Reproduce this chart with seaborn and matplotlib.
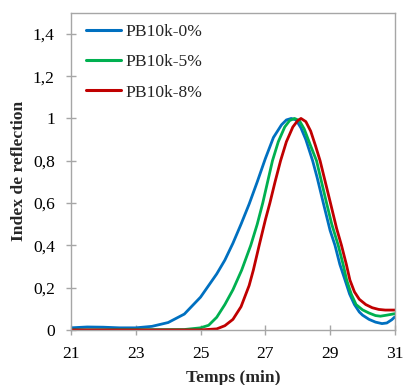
import matplotlib
matplotlib.use("Agg")
import matplotlib.pyplot as plt
import seaborn as sns
import pandas as pd
from matplotlib.ticker import FuncFormatter

# --- data ---
x_blue = [21.0, 21.5, 22.0, 22.5, 23.0, 23.5, 24.0, 24.5, 25.0, 25.25, 25.5, 25.75,
          26.0, 26.25, 26.5, 26.75, 27.0, 27.25, 27.5, 27.65, 27.8, 27.95, 28.1,
          28.25, 28.46, 28.6, 28.79, 29.0, 29.15, 29.3, 29.46, 29.6, 29.75, 29.9,
          30.0, 30.2, 30.4, 30.6, 30.75, 30.9, 31.0]
y_blue = [0.010, 0.014, 0.013, 0.010, 0.010, 0.017, 0.035, 0.075, 0.155, 0.210, 0.265, 0.330,
          0.410, 0.500, 0.595, 0.700, 0.810, 0.910, 0.970, 0.993, 1.000, 0.993, 0.955,
          0.900, 0.800, 0.720, 0.600, 0.470, 0.400, 0.310, 0.236, 0.170, 0.120, 0.085,
          0.070, 0.050, 0.037, 0.030, 0.033, 0.048, 0.062]

x_green = [21.0, 24.5, 25.0, 25.25, 25.5, 25.75, 26.0, 26.27, 26.55, 26.75, 26.92, 27.07,
           27.22, 27.4, 27.6, 27.75, 27.9, 28.05, 28.2, 28.4, 28.58, 28.75, 28.89,
           29.05, 29.25, 29.4, 29.51, 29.65, 29.8, 30.0, 30.2, 30.4, 30.55, 30.75, 31.0]
y_green = [0.0, 0.002, 0.010, 0.022, 0.060, 0.120, 0.190, 0.283, 0.400, 0.500, 0.600, 0.700,
           0.800, 0.890, 0.960, 0.990, 1.000, 0.990, 0.950, 0.870, 0.800, 0.690, 0.600,
           0.500, 0.400, 0.310, 0.236, 0.170, 0.120, 0.095, 0.080, 0.068, 0.065, 0.070, 0.077]

x_red = [21.0, 25.0, 25.5, 25.75, 26.0, 26.25, 26.5, 26.63, 26.81, 27.0, 27.14, 27.3,
         27.47, 27.65, 27.85, 28.0, 28.1, 28.25, 28.4, 28.55, 28.69, 28.85, 29.01,
         29.2, 29.35, 29.5, 29.61, 29.75, 29.9, 30.1, 30.3, 30.5, 30.7, 31.0]
y_red = [0.0, 0.0, 0.005, 0.020, 0.050, 0.110, 0.210, 0.283, 0.400, 0.520, 0.600, 0.700,
         0.800, 0.890, 0.960, 0.990, 1.000, 0.985, 0.940, 0.870, 0.800, 0.700, 0.600,
         0.480, 0.400, 0.310, 0.236, 0.180, 0.145, 0.120, 0.105, 0.097, 0.094, 0.094]

series_names = ["PB10k-0%", "PB10k-5%", "PB10k-8%"]
colors = ["#0070C0", "#00B050", "#C00000"]
x_ticks = [21, 23, 25, 27, 29, 31]
y_ticks = [0, 0.2, 0.4, 0.6, 0.8, 1.0, 1.2, 1.4]

frames = []
for name, xs, ys in zip(series_names, [x_blue, x_green, x_red], [y_blue, y_green, y_red]):
    frames.append(pd.DataFrame({"Temps": xs, "Index": ys, "Série": name}))
df = pd.concat(frames, ignore_index=True)

sns.set_style("white")
plt.rcParams["font.family"] = ["Liberation Serif", "DejaVu Serif"]

FS = 12.6
fig = plt.figure(figsize=(4.03, 3.85), dpi=100)
ax = fig.add_axes([0.176, 0.143, 0.804, 0.824])

sns.lineplot(data=df, x="Temps", y="Index", hue="Série", palette=colors,
             hue_order=series_names, linewidth=2.0, ax=ax, sort=False,
             estimator=None)
for ln in ax.get_lines():
    ln.set_solid_joinstyle("round")
    ln.set_solid_capstyle("round")

ax.set_xlim(21, 31)
ax.set_ylim(0, 1.5)
ax.set_xticks(x_ticks)
ax.set_yticks(y_ticks)

def fmt(v, pos):
    s = ("%.1f" % v).rstrip("0").rstrip(".")
    return s.replace(".", ",")

ax.yaxis.set_major_formatter(FuncFormatter(fmt))
ax.xaxis.set_major_formatter(FuncFormatter(lambda v, p: "%d" % v))

for sp in ax.spines.values():
    sp.set_color("#A6A6A6")
    sp.set_linewidth(1.0)

ax.tick_params(axis="both", which="major", direction="inout", length=7.2,
               width=1.0, color="#A6A6A6", labelsize=FS, labelcolor="black",
               left=True, bottom=True, pad=8)

ax.set_xlabel("Temps (min)", fontsize=FS, fontweight="bold", labelpad=6)
ax.set_ylabel("Index de reflection", fontsize=FS, fontweight="bold", labelpad=4)

leg = ax.legend(loc="upper left", frameon=False, fontsize=FS, handlelength=2.0,
                labelspacing=0.8, handletextpad=0.25, borderaxespad=0.0,
                borderpad=0.0, bbox_to_anchor=(0.046, 0.965))
for line in leg.get_lines():
    line.set_linewidth(2.2)

fig.savefig("out.png", dpi=100)
